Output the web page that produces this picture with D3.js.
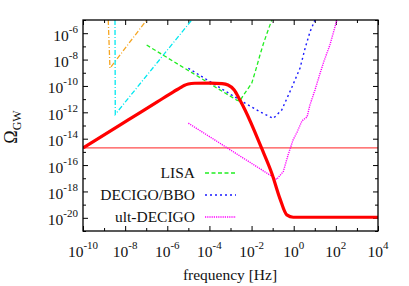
<!DOCTYPE html>
<html>
<head>
<meta charset="utf-8">
<script src="https://cdn.jsdelivr.net/npm/d3@7"></script>
<style>
body{margin:0;background:#fff;}
text{font-family:"Liberation Serif","Times New Roman",serif;fill:#111;}
</style>
</head>
<body>
<script>
// Omega_GW ( f )  -- punkty [f Hz, Omega]
var sygnal=[[1e-10,2.0e-15],[4.7e-9,9.1e-14],[5.1e-8,9.5e-13],[3.2e-7,5.9e-12],[1.95e-6,3.6e-11],
	[4.0e-6,7.0e-11],[6.3e-6,1.07e-10],[1.0e-5,1.4e-10],[2.0e-5,1.6e-10],[1.07e-4,1.66e-10],
	[4.0e-4,1.5e-10],[7.6e-4,1.17e-10],[1.5e-3,5.0e-11],[2.8e-3,8.5e-12],[4.9e-3,1.5e-12],
	[3.0e-2,1.9e-15],[9.1e-2,2.4e-17],[0.22,3.0e-19],[0.47,1.66e-20],[0.95,1.1e-20],[1e4,1.1e-20]];
var poziom=[[1e-10,2e-15],[1e4,2e-15]];
var pomaranczowy=[[1.58e-9,1e-5],[1.9e-9,2.2e-9],[1.05e-7,1e-5]];
var cyjan=[[3.3e-9,1e-5],[3.4e-9,7.0e-13],[1.45e-5,1e-5]];
var lisa=[[1.05e-7,1.26e-7],[1.95e-3,8.5e-12],[2.8e-3,7.2e-12],[4.1e-3,2.0e-11],[1.02e-2,1.6e-10],
	[1.74e-2,2.75e-9],[2.5e-2,2.2e-8],[3.6e-2,1.5e-7],[5.4e-2,1.0e-6],[9.1e-2,1e-5]];
var decigo=[[1e-5,2.2e-9],[1.07e-4,2.1e-10],[2.8e-3,8.5e-12],[2.5e-2,1.1e-12],[0.107,3.4e-13],
	[0.27,1.5e-12],[0.79,6.9e-11],[2.0,2.3e-9],[3.5,7.6e-8],[5.9,1.23e-6],[10.2,1e-5]];
var ultDecigo=[[1e-5,1.5e-13],[0.155,8.3e-18],[0.32,3.2e-17],[0.54,5.8e-16],[0.93,7.9e-15],
	[1.45,3.2e-14],[2.45,2.2e-13],[4.3,4.5e-13],[5.9,3.6e-12],[10.2,4.9e-11],[17.8,9.1e-10],
	[27.5,7.8e-9],[52,1.26e-7],[91,3.0e-6],[112,1e-5]];
var etykietyLegendy=["LISA","DECIGO/BBO","ult-DECIGO"];
var wykladnikiX=[-10,-8,-6,-4,-2,0,2,4];
var wykladnikiY=[-20,-18,-16,-14,-12,-10,-8,-6];

var szer=409, wys=286;
var lewo=83, prawo=378, gora=20, dol=231;

var svg=d3.select("body").append("svg").attr("width",szer).attr("height",wys);
var x=d3.scaleLog().domain([1e-10,1e4]).range([lewo,prawo]);
var y=d3.scaleLog().domain([1e-21,1e-5]).range([dol,gora]);

svg.append("defs").append("clipPath").attr("id","obszar")
	.append("rect").attr("x",lewo).attr("y",gora).attr("width",prawo-lewo).attr("height",dol-gora);

//osie - podzialki
var duzeX=wykladnikiX.map(function(e){return Math.pow(10,e);});
var maleX=d3.range(-9,4,2).map(function(e){return Math.pow(10,e);});
var duzeY=wykladnikiY.map(function(e){return Math.pow(10,e);});
var maleY=d3.range(-21,-4,2).map(function(e){return Math.pow(10,e);});

function podzialki(os,wartosci,dl,trans){
	var g=svg.append("g").attr("transform",trans)
		.call(os.tickValues(wartosci).tickSize(dl).tickFormat(""));
	g.select(".domain").remove();
	g.selectAll(".tick line").attr("stroke","#000").attr("stroke-width",1);
	return g;
}
podzialki(d3.axisTop(x),duzeX,5,"translate(0,"+dol+")");
podzialki(d3.axisTop(x),maleX,3,"translate(0,"+dol+")");
podzialki(d3.axisBottom(x),duzeX,5,"translate(0,"+gora+")");
podzialki(d3.axisBottom(x),maleX,3,"translate(0,"+gora+")");
podzialki(d3.axisRight(y),duzeY,5,"translate("+lewo+",0)");
podzialki(d3.axisRight(y),maleY,3,"translate("+lewo+",0)");
podzialki(d3.axisLeft(y),duzeY,5,"translate("+prawo+",0)");
podzialki(d3.axisLeft(y),maleY,3,"translate("+prawo+",0)");

//etykiety osi X
wykladnikiX.forEach(function(e){
	var t=svg.append("text").attr("x",x(Math.pow(10,e))).attr("y",257)
		.attr("text-anchor","middle").style("font-size","15.5px");
	t.append("tspan").text("10");
	t.append("tspan").attr("dy",-8).style("font-size","11px").text(String(e));
});
//etykiety osi Y
wykladnikiY.forEach(function(e){
	var t=svg.append("text").attr("x",78).attr("y",y(Math.pow(10,e))+7.5)
		.attr("text-anchor","end").style("font-size","15.5px");
	t.append("tspan").text("10");
	t.append("tspan").attr("dy",-8).style("font-size","11px").text(String(e));
});

svg.append("text").attr("x",(lewo+prawo)/2-0.5).attr("y",280).attr("text-anchor","middle")
	.style("font-size","15.5px").text("frequency [Hz]");
var tytulY=svg.append("text").attr("transform","translate(17,127) rotate(-90)")
	.attr("text-anchor","middle").style("font-size","18px");
tytulY.append("tspan").text("\u03A9");
tytulY.append("tspan").attr("dy",4).style("font-size","12px").text("GW");

//krzywe
var linia=d3.line().x(function(d){return x(d[0]);}).y(function(d){return y(d[1]);});
var gladka=d3.line().curve(d3.curveMonotoneX).x(function(d){return x(d[0]);}).y(function(d){return y(d[1]);});
var krzywe=svg.append("g").attr("clip-path","url(#obszar)");

function rysuj(dane,gen,kolor,grubosc,kreski){
	krzywe.append("path").datum(dane).attr("d",gen)
		.attr("fill","none").attr("stroke",kolor).attr("stroke-width",grubosc)
		.attr("stroke-dasharray",kreski);
}
rysuj(poziom,linia,"#ff4d4d",1.2,null);
rysuj(pomaranczowy,linia,"#f5a623",1.3,"5,2,1,2");
rysuj(cyjan,linia,"#00e8f0",1.3,"5,2,1,2");
rysuj(lisa,linia,"#22ee22",1.3,"4,2.5");
rysuj(decigo,linia,"#1a1aff",1.4,"2,3");
rysuj(ultDecigo,linia,"#ff00ff",1.4,"1.2,1");
rysuj(sygnal,gladka,"#ff0000",3.2,null);

//legenda
var kolory=["#22ee22","#1a1aff","#ff00ff"];
var kreskiLeg=["4,2.5","2,3","1.2,1"];
etykietyLegendy.forEach(function(nazwa,i){
	var yy=173+i*22;
	svg.append("text").attr("x",195).attr("y",yy+5).attr("text-anchor","end")
		.style("font-size","15.5px").text(nazwa);
	svg.append("line").attr("x1",205).attr("x2",236).attr("y1",yy).attr("y2",yy)
		.attr("stroke",kolory[i]).attr("stroke-width",1.4).attr("stroke-dasharray",kreskiLeg[i]);
});

//ramka
svg.append("rect").attr("x",lewo).attr("y",gora).attr("width",prawo-lewo).attr("height",dol-gora)
	.attr("fill","none").attr("stroke","#000").attr("stroke-width",1.3);
</script>
</body>
</html>
